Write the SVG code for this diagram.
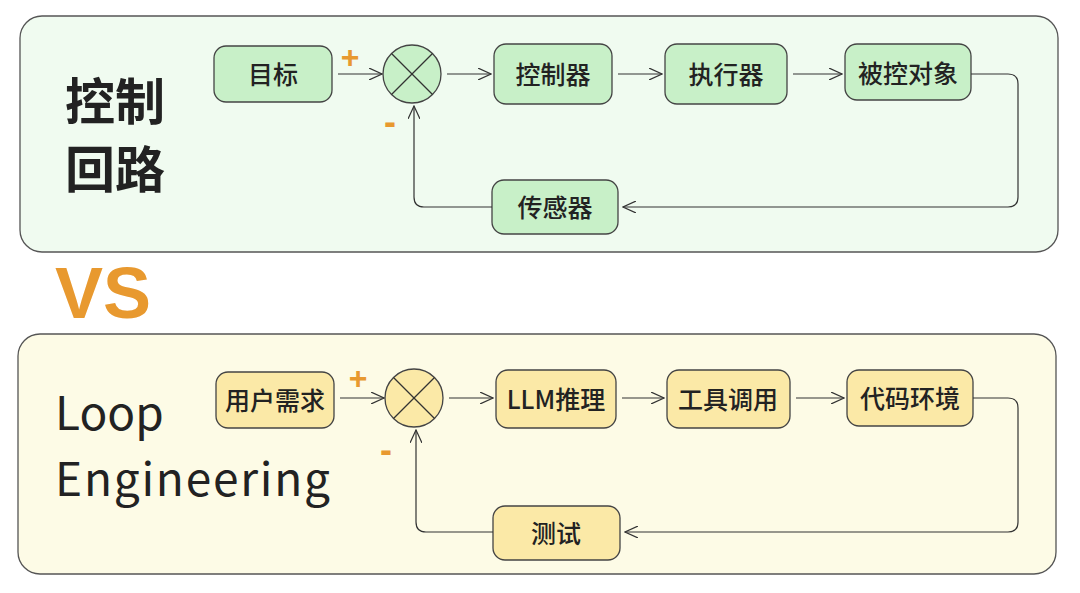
<svg xmlns="http://www.w3.org/2000/svg" width="1080" height="593" viewBox="0 0 1080 593">
<defs>
<marker id="ar" markerWidth="14" markerHeight="12" refX="13" refY="6" orient="auto" markerUnits="userSpaceOnUse"><path d="M0,0 L13,6 L0,12" fill="none" stroke="#333" stroke-width="1.2"/></marker>
<style>
.g{fill:#c8f0c8;stroke:#444;stroke-width:1.3}
.y{fill:#fbe9a7;stroke:#444;stroke-width:1.3}
.t{font-family:"Noto Sans CJK SC","Noto Sans",sans-serif;font-size:25px;font-weight:500;fill:#222;text-anchor:middle;dominant-baseline:central}
.c{fill:none;stroke:#333;stroke-width:1.2;marker-end:url(#ar)}
.x{stroke:#333;stroke-width:1.2}
.o{fill:#e8992f;font-family:"Liberation Sans",sans-serif;font-weight:bold}
.h{font-family:"Noto Sans CJK SC","Noto Sans",sans-serif;fill:#222}
</style>
</defs>
<rect width="1080" height="593" fill="#fff"/>
<rect x="20" y="16" width="1038" height="236" rx="22" fill="#f0fbf0" stroke="#555" stroke-width="1.3"/>
<rect x="18" y="334" width="1038" height="240" rx="22" fill="#fdfbe6" stroke="#555" stroke-width="1.3"/>
<text class="h" x="65" y="120" font-size="50" font-weight="bold">控制</text>
<text class="h" x="65" y="188" font-size="50" font-weight="bold">回路</text>
<text class="o" x="55" y="318" font-size="72">VS</text>
<text class="h" x="55" y="430" font-size="46">Loop</text>
<text class="h" x="55" y="496" font-size="46" textLength="275">Engineering</text>
<g id="n1"><rect class="g" x="214" y="46" width="118" height="56" rx="12"/><text class="t" x="273" y="73">目标</text></g>
<g id="s1"><circle class="g" cx="412" cy="74" r="29"/><line class="x" x1="391.5" y1="53.5" x2="432.5" y2="94.5"/><line class="x" x1="432.5" y1="53.5" x2="391.5" y2="94.5"/></g>
<g id="n2"><rect class="g" x="494" y="44" width="118" height="60" rx="12"/><text class="t" x="553" y="73">控制器</text></g>
<g id="n3"><rect class="g" x="665" y="44" width="122" height="60" rx="12"/><text class="t" x="726" y="73">执行器</text></g>
<g id="n4"><rect class="g" x="845" y="44" width="126" height="56" rx="12"/><text class="t" x="908" y="72">被控对象</text></g>
<g id="n5"><rect class="g" x="492" y="180" width="126" height="54" rx="12"/><text class="t" x="555" y="206">传感器</text></g>
<g id="m1"><rect class="y" x="216" y="372" width="118" height="56" rx="12"/><text class="t" x="275" y="399" font-size="20">用户需求</text></g>
<g id="s2"><circle class="y" cx="414" cy="398" r="29"/><line class="x" x1="393.5" y1="377.5" x2="434.5" y2="418.5"/><line class="x" x1="434.5" y1="377.5" x2="393.5" y2="418.5"/></g>
<g id="m2"><rect class="y" x="496" y="370" width="120" height="58" rx="12"/><text class="t" x="556" y="398">LLM推理</text></g>
<g id="m3"><rect class="y" x="667" y="370" width="123" height="58" rx="12"/><text class="t" x="728" y="398">工具调用</text></g>
<g id="m4"><rect class="y" x="847" y="370" width="126" height="56" rx="12"/><text class="t" x="910" y="397">代码环境</text></g>
<g id="m5"><rect class="y" x="493" y="506" width="127" height="54" rx="12"/><text class="t" x="556" y="532">测试</text></g>
<g id="connectors">
<path class="c" d="M338,74 H382"/>
<path class="c" d="M447,74 H491"/>
<path class="c" d="M618,74 H662"/>
<path class="c" d="M793,74 H842"/>
<path class="c" d="M971,74 H1008 Q1018,74 1018,84 V197 Q1018,207 1008,207 H623"/>
<path class="c" d="M492,207 H424 Q414,207 414,197 V106"/>
<path class="c" d="M340,398 H384"/>
<path class="c" d="M449,398 H493"/>
<path class="c" d="M622,398 H664"/>
<path class="c" d="M796,398 H844"/>
<path class="c" d="M973,398 H1008 Q1018,398 1018,408 V522 Q1018,532 1008,532 H625"/>
<path class="c" d="M493,532 H426 Q416,532 416,522 V430"/>
</g>
<text class="o" x="350" y="68" font-size="32" text-anchor="middle">+</text>
<text class="o" x="390" y="134" font-size="36" text-anchor="middle">-</text>
<text class="o" x="358" y="389" font-size="32" text-anchor="middle">+</text>
<text class="o" x="386" y="462" font-size="36" text-anchor="middle">-</text>
</svg>
